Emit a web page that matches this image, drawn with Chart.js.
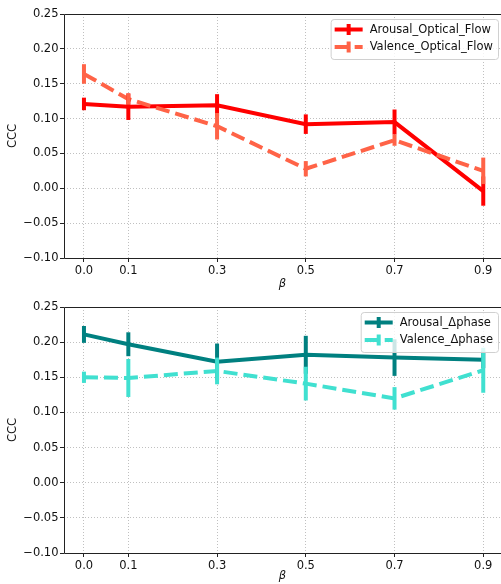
<!DOCTYPE html>
<html>
<head>
<meta charset="utf-8">
<script src="https://cdn.jsdelivr.net/npm/chart.js@4.4.0/dist/chart.umd.min.js"></script>
<style>
    html, body { margin: 0; padding: 0; background: #fff; }
    canvas { display: block; }
</style>
</head>
<body>
<canvas id="chart1" width="501" height="292"></canvas>
<canvas id="chart2" width="501" height="292"></canvas>
<script>
// data
var betas = [0.0, 0.1, 0.3, 0.5, 0.7, 0.9];
var yTicks = [-0.10, -0.05, 0.00, 0.05, 0.10, 0.15, 0.20, 0.25];

var arousalOF = [0.121, 0.117, 0.119, 0.092, 0.095, -0.004];
var arousalOFErr = [0.009, 0.019, 0.016, 0.014, 0.018, 0.021];
var valenceOF = [0.164, 0.128, 0.089, 0.028, 0.069, 0.025];
var valenceOFErr = [0.014, 0.008, 0.019, 0.011, 0.008, 0.019];

var arousalDP = [0.211, 0.197, 0.172, 0.182, 0.178, 0.175];
var arousalDPErr = [0.012, 0.017, 0.026, 0.027, 0.026, 0.012];
var valenceDP = [0.150, 0.149, 0.159, 0.141, 0.120, 0.160];
var valenceDPErr = [0.008, 0.027, 0.019, 0.024, 0.016, 0.032];

var FONT = "'DejaVu Sans', sans-serif";
var FS = 11.5;

function points(vals) {
    return vals.map(function (v, i) { return {x: betas[i], y: v}; });
}

function ds(label, vals, errs, color, dash, order) {
    return {
        label: label,
        data: points(vals),
        errors: errs,
        borderColor: color,
        backgroundColor: color,
        borderWidth: 4,
        borderDash: dash,
        borderCapStyle: 'butt',
        pointRadius: 0,
        tension: 0,
        fill: false,
        order: order
    };
}

var errorBars = {
    id: 'errorBars',
    afterDatasetsDraw: function (chart) {
        var ctx = chart.ctx;
        var xs = chart.scales.x, ys = chart.scales.y;
        chart.data.datasets.forEach(function (d) {
            ctx.save();
            ctx.strokeStyle = d.borderColor;
            ctx.lineWidth = 4;
            d.data.forEach(function (p, j) {
                var x = xs.getPixelForValue(p.x);
                ctx.beginPath();
                ctx.moveTo(x, ys.getPixelForValue(p.y + d.errors[j]));
                ctx.lineTo(x, ys.getPixelForValue(p.y - d.errors[j]));
                ctx.stroke();
            });
            ctx.restore();
        });
        // axes frame
        var a = chart.chartArea;
        ctx.save();
        ctx.strokeStyle = '#222';
        ctx.lineWidth = 1;
        ctx.beginPath();
        ctx.moveTo(a.right + 2, a.top + 0.5);
        ctx.lineTo(a.left + 0.5, a.top + 0.5);
        ctx.lineTo(a.left + 0.5, a.bottom + 0.5);
        ctx.lineTo(a.right + 2, a.bottom + 0.5);
        ctx.stroke();
        ctx.restore();
    },
    afterDraw: function (chart) {
        var ctx = chart.ctx;
        var a = chart.chartArea;
        var sets = chart.data.datasets;
        ctx.save();
        ctx.font = FS + 'px ' + FONT;
        var tw = 0;
        sets.forEach(function (d) { tw = Math.max(tw, ctx.measureText(d.label).width); });
        var handle = 28, padL = 4, gap = 7, padR = 5;
        var w = padL + handle + gap + tw + padR;
        var right = a.right - 3;
        var left = right - w;
        var top = a.top + 5;
        var h = 40;
        ctx.beginPath();
        ctx.roundRect(left + 0.5, top + 0.5, w, h, 3);
        ctx.fillStyle = 'rgba(255,255,255,0.8)';
        ctx.fill();
        ctx.strokeStyle = '#d0d0d0';
        ctx.lineWidth = 1;
        ctx.stroke();
        sets.forEach(function (d, i) {
            var y = top + 10.5 + i * 17.5;
            var x0 = left + padL;
            ctx.strokeStyle = d.borderColor;
            ctx.lineWidth = 4;
            ctx.setLineDash(d.borderDash);
            ctx.beginPath();
            ctx.moveTo(x0, y);
            ctx.lineTo(x0 + handle, y);
            ctx.stroke();
            ctx.setLineDash([]);
            ctx.beginPath();
            ctx.moveTo(x0 + handle / 2, y - 5.5);
            ctx.lineTo(x0 + handle / 2, y + 5.5);
            ctx.stroke();
            ctx.fillStyle = '#111';
            ctx.textBaseline = 'middle';
            ctx.textAlign = 'left';
            ctx.fillText(d.label, x0 + handle + gap, y + 0.5);
        });
        ctx.restore();
    }
};

function makeChart(id, datasets, padTop, axisH) {
    var canvas = document.getElementById(id).getContext('2d');
    return new Chart(canvas, {
        type: 'line',
        data: {datasets: datasets},
        plugins: [errorBars],
        options: {
            responsive: false,
            animation: false,
            devicePixelRatio: 1,
            layout: {padding: {top: padTop, left: 0, right: 0, bottom: 0}},
            plugins: {legend: {display: false}, tooltip: {enabled: false}},
            scales: {
                x: {
                    type: 'linear',
                    min: -0.045,
                    max: 0.94,
                    afterBuildTicks: function (s) {
                        s.ticks = betas.map(function (v) { return {value: v}; });
                    },
                    afterFit: function (s) { s.height = axisH; },
                    grid: {
                        color: '#c0c0c0',
                        lineWidth: 1,
                        tickColor: '#222',
                        tickLength: 4,
                        tickBorderDash: []
                    },
                    border: {display: false, dash: [1, 2]},
                    ticks: {
                        color: '#111',
                        padding: 2,
                        maxRotation: 0,
                        font: {family: FONT, size: FS},
                        callback: function (v) { return v.toFixed(1); }
                    },
                    title: {
                        display: true,
                        text: 'β',
                        color: '#111',
                        padding: {top: 0, bottom: 1},
                        font: {family: FONT, size: FS, style: 'italic'}
                    }
                },
                y: {
                    min: -0.10,
                    max: 0.25,
                    afterBuildTicks: function (s) {
                        s.ticks = yTicks.map(function (v) { return {value: v}; });
                    },
                    afterFit: function (s) { s.width = 64; },
                    grid: {
                        color: '#c0c0c0',
                        lineWidth: 1,
                        tickColor: '#222',
                        tickLength: 4,
                        tickBorderDash: []
                    },
                    border: {display: false, dash: [1, 2]},
                    ticks: {
                        color: '#111',
                        padding: 1.5,
                        font: {family: FONT, size: FS},
                        callback: function (v) {
                            return (v < -1e-9 ? '\u2212' : '') + Math.abs(v).toFixed(2);
                        }
                    },
                    title: {
                        display: true,
                        text: 'CCC',
                        color: '#111',
                        padding: {top: 6, bottom: 0},
                        font: {family: FONT, size: FS}
                    }
                }
            }
        }
    });
}

makeChart('chart1', [
    ds('Arousal_Optical_Flow', arousalOF, arousalOFErr, '#ff0000', [], 1),
    ds('Valence_Optical_Flow', valenceOF, valenceOFErr, '#ff6347', [14, 6], 0)
], 14, 34);

makeChart('chart2', [
    ds('Arousal_\u0394phase', arousalDP, arousalDPErr, '#008080', [], 1),
    ds('Valence_\u0394phase', valenceDP, valenceDPErr, '#40e0d0', [14, 6], 0)
], 15, 31);
</script>
</body>
</html>
